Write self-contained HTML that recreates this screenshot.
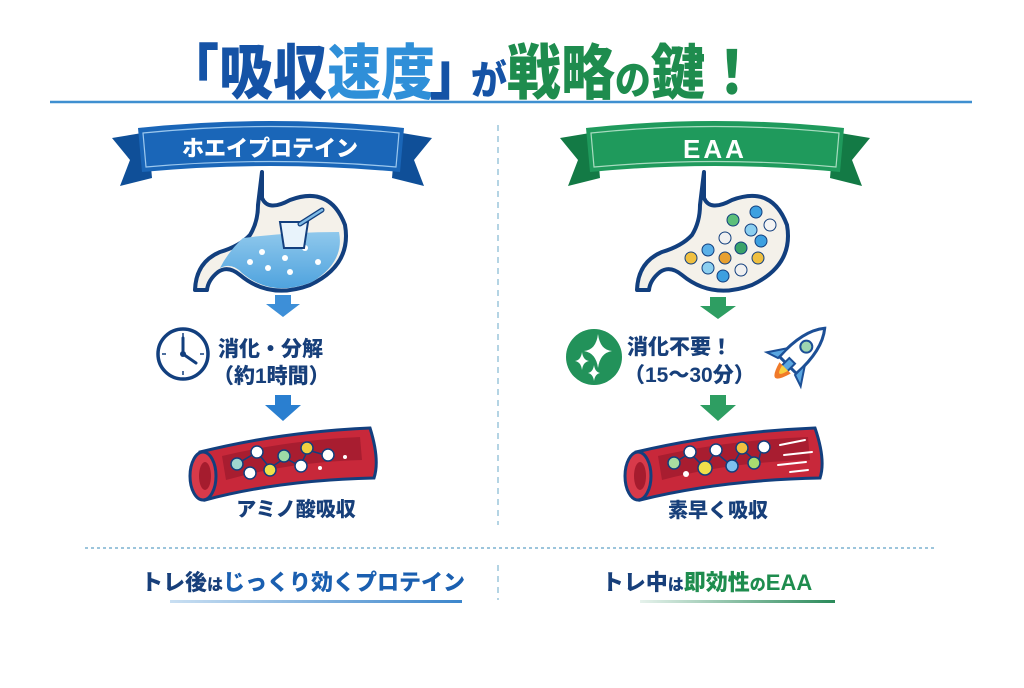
<!DOCTYPE html>
<html><head><meta charset="utf-8"><style>
body{margin:0;background:#fff;width:1024px;height:683px;overflow:hidden;font-family:"Liberation Sans","Noto Sans CJK JP",sans-serif}
svg text{font-family:"Liberation Sans","Noto Sans CJK JP",sans-serif;font-weight:900}
</style></head><body>
<svg width="1024" height="683" viewBox="0 0 1024 683" xmlns="http://www.w3.org/2000/svg">
<defs>
<linearGradient id="ulb" x1="0" x2="1"><stop offset="0" stop-color="#c9dff2"/><stop offset="1" stop-color="#3c86cc"/></linearGradient>
<linearGradient id="ulg" x1="0" x2="1"><stop offset="0" stop-color="#e6f2ec"/><stop offset="1" stop-color="#2a8a5a"/></linearGradient>
<linearGradient id="wat" x1="0" y1="0" x2="0" y2="1"><stop offset="0" stop-color="#8fc8ec"/><stop offset="1" stop-color="#4fa3de"/></linearGradient>
</defs>
<!-- title -->
<g transform="translate(165,94) scale(0.9,1)">
<text x="0" y="0" font-size="60" fill="#1553a6">「吸収<tspan fill="#2f8fd8">速度</tspan><tspan dx="-6">」</tspan><tspan dx="-14" font-size="40" fill="#1553a6">が</tspan><tspan fill="#1e8c4e">戦略</tspan><tspan font-size="40" fill="#1e8c4e">の</tspan><tspan fill="#1e8c4e">鍵！</tspan></text>
</g>
<line x1="50" y1="102" x2="972" y2="102" stroke="#3f8fd0" stroke-width="2.5"/>
<!-- dividers -->
<line x1="498" y1="125" x2="498" y2="525" stroke="#9cc5dc" stroke-width="1.5" stroke-dasharray="6,5"/>
<line x1="85" y1="548" x2="935" y2="548" stroke="#9cc5dc" stroke-width="2" stroke-dasharray="3,3"/>
<line x1="498" y1="565" x2="498" y2="600" stroke="#9cc5dc" stroke-width="1.5" stroke-dasharray="6,5"/>

<!-- left banner -->
<polygon points="112,138 148,132 152,178 120,186 130,160" fill="#0f4f98"/>
<polygon points="432,138 396,132 392,178 424,186 414,160" fill="#0f4f98"/>
<path d="M138,128 Q270,114 404,128 L400,172 Q270,160 142,172 Z" fill="#1a66b8"/>
<path d="M143,133 Q270,120 399,133 L396,167 Q270,156 146,167 Z" fill="none" stroke="#9cc8ee" stroke-width="1.2"/>
<text x="270" y="156" font-size="22" fill="#fff" text-anchor="middle">ホエイプロテイン</text>
<!-- right banner -->
<polygon points="560,138 596,132 600,178 568,186 578,160" fill="#137a45"/>
<polygon points="870,138 834,132 830,178 862,186 852,160" fill="#137a45"/>
<path d="M586,128 Q715,114 844,128 L840,172 Q715,160 590,172 Z" fill="#1f9a5c"/>
<path d="M591,133 Q715,120 839,133 L836,167 Q715,156 594,167 Z" fill="none" stroke="#a8dcc0" stroke-width="1.2"/>
<text x="715" y="158" font-size="26" fill="#fff" text-anchor="middle" letter-spacing="3">EAA</text>

<!-- left stomach -->
<path d="M262,172 L262,198 Q268,212 290,200 Q330,185 345,225 Q352,265 310,285 Q270,300 240,275 Q228,265 218,272 Q208,280 207,290 L195,290 Q196,262 220,252 Q240,246 250,235 Q258,222 258,205 Z" fill="#f4f1ea" stroke="#123f7e" stroke-width="4" stroke-linejoin="round"/>
<path d="M243,238 Q290,232 339,232 Q345,262 312,282 Q272,298 242,273 Q232,262 220,268 Q228,252 243,238 Z" fill="url(#wat)"/>
<g fill="#fff"><circle cx="262" cy="252" r="3"/><circle cx="285" cy="258" r="3"/><circle cx="305" cy="248" r="3"/><circle cx="268" cy="268" r="3"/><circle cx="290" cy="272" r="3"/><circle cx="318" cy="262" r="3"/><circle cx="250" cy="262" r="3"/></g>
<path d="M280,222 L308,222 L304,248 L284,248 Z" fill="#e8f3fb" stroke="#123f7e" stroke-width="2"/>
<line x1="300" y1="224" x2="322" y2="210" stroke="#123f7e" stroke-width="5" stroke-linecap="round"/>
<line x1="300" y1="224" x2="322" y2="210" stroke="#7fbbe6" stroke-width="2.5" stroke-linecap="round"/>
<!-- left arrows -->
<polygon points="275,295 291,295 291,304 300,304 283,317 266,304 275,304" fill="#3d8fd8"/>
<polygon points="275,395 291,395 291,405 301,405 283,421 265,405 275,405" fill="#2a7fd0"/>
<!-- clock -->
<circle cx="183" cy="354" r="25" fill="#fff" stroke="#123f7e" stroke-width="3.5"/>
<g stroke="#123f7e" stroke-width="1.5"><line x1="183" y1="333" x2="183" y2="337"/><line x1="183" y1="371" x2="183" y2="375"/><line x1="162" y1="354" x2="166" y2="354"/><line x1="200" y1="354" x2="204" y2="354"/></g>
<polyline points="183,338 183,354 196,363" fill="none" stroke="#123f7e" stroke-width="3" stroke-linecap="round"/>
<circle cx="183" cy="354" r="3" fill="#123f7e"/>
<text x="218" y="356" font-size="21" fill="#173f7a">消化・分解</text>
<text x="213" y="383" font-size="21" fill="#173f7a">（約1時間）</text>
<!-- left vessel -->
<path d="M200,452 Q280,432 370,428 Q380,460 374,478 Q280,480 205,500 Z" fill="#c8283a" stroke="#123f7e" stroke-width="3"/>
<path d="M222,456 Q290,440 360,437 L362,460 Q290,462 226,480 Z" fill="#a81d30"/>
<ellipse cx="203" cy="476" rx="13" ry="24" fill="#d83a4a" stroke="#123f7e" stroke-width="3"/>
<ellipse cx="205" cy="476" rx="6" ry="14" fill="#a51c2e"/>
<g stroke="#123f7e" stroke-width="1.5"><polyline points="237,464 257,452 270,468 285,458 300,466 308,450 328,456" fill="none"/>
<circle cx="237" cy="464" r="6" fill="#9fd6d0"/><circle cx="257" cy="452" r="6" fill="#fff"/><circle cx="250" cy="473" r="6" fill="#fff"/><circle cx="270" cy="470" r="6" fill="#f0e04a"/><circle cx="284" cy="456" r="6" fill="#9edaa6"/><circle cx="301" cy="466" r="6" fill="#fff"/><circle cx="307" cy="448" r="6" fill="#f0d040"/><circle cx="328" cy="455" r="6" fill="#fff"/></g>
<circle cx="345" cy="457" r="2" fill="#fff"/><circle cx="320" cy="468" r="2" fill="#fff"/>
<text x="296" y="516" font-size="20" fill="#173f7a" text-anchor="middle">アミノ酸吸収</text>

<!-- right stomach -->
<path d="M704,172 L704,198 Q710,212 732,200 Q772,185 787,225 Q794,265 752,285 Q712,300 682,275 Q670,265 660,272 Q650,280 649,290 L637,290 Q638,262 662,252 Q682,246 692,235 Q700,222 700,205 Z" fill="#f4f1ea" stroke="#123f7e" stroke-width="4" stroke-linejoin="round"/>
<g stroke="#123f7e" stroke-width="1">
<circle cx="756" cy="212" r="6" fill="#3da0e0"/><circle cx="733" cy="220" r="6" fill="#5cbf7a"/><circle cx="770" cy="225" r="6" fill="#f4f4f4"/><circle cx="751" cy="230" r="6" fill="#8ccff0"/><circle cx="725" cy="238" r="6" fill="#f0f0f0"/><circle cx="761" cy="241" r="6" fill="#3da0e0"/><circle cx="741" cy="248" r="6" fill="#3aa36a"/><circle cx="708" cy="250" r="6" fill="#5ab0e8"/><circle cx="691" cy="258" r="6" fill="#f0c040"/><circle cx="725" cy="258" r="6" fill="#e8a030"/><circle cx="758" cy="258" r="6" fill="#f0c040"/><circle cx="708" cy="268" r="6" fill="#8ccff0"/><circle cx="741" cy="270" r="6" fill="#f0f0f0"/><circle cx="723" cy="276" r="6" fill="#3da0e0"/></g>
<!-- right arrows -->
<polygon points="710,297 726,297 726,306 736,306 718,319 700,306 710,306" fill="#2e9e62"/>
<polygon points="710,395 726,395 726,405 736,405 718,421 700,405 710,405" fill="#2e9e62"/>
<!-- sparkle icon -->
<circle cx="594" cy="357" r="28" fill="#22925a"/>
<path d="M598,334 Q600,350 612,351 Q600,353 598,368 Q596,353 584,351 Q596,350 598,334Z" fill="#fff"/>
<path d="M582,352 Q583,360 589,361 Q583,362 582,370 Q581,362 575,361 Q581,360 582,352Z" fill="#fff"/>
<path d="M594,365 Q595,372 600,373 Q595,374 594,381 Q593,374 588,373 Q593,372 594,365Z" fill="#fff"/>
<text x="627" y="354" font-size="21" fill="#173f7a">消化不要！</text>
<text x="624" y="382" font-size="21" fill="#173f7a">（15～30分）</text>
<!-- rocket -->
<g transform="translate(795,358) rotate(45)">
<path d="M0,-42 Q14,-25 12,10 L-12,10 Q-14,-25 0,-42Z" fill="#fff" stroke="#1c4f96" stroke-width="3"/>
<circle cx="0" cy="-16" r="6" fill="#9fd6b0" stroke="#1c4f96" stroke-width="2"/>
<path d="M-12,-2 L-24,16 L-12,12Z" fill="#5aa6e0" stroke="#1c4f96" stroke-width="2"/>
<path d="M12,-2 L24,16 L12,12Z" fill="#5aa6e0" stroke="#1c4f96" stroke-width="2"/>
<rect x="-4" y="4" width="8" height="14" fill="#5aa6e0" stroke="#1c4f96" stroke-width="2"/>
<path d="M-8,14 Q0,42 8,14Z" fill="#f07a2a"/><path d="M-4,14 Q0,30 4,14Z" fill="#f8d040"/>
</g>
<!-- right vessel -->
<path d="M636,452 Q720,432 815,428 Q826,460 820,478 Q720,480 640,500 Z" fill="#c8283a" stroke="#123f7e" stroke-width="3"/>
<path d="M658,456 Q730,440 808,437 L810,460 Q730,462 662,480 Z" fill="#a81d30"/>
<ellipse cx="638" cy="476" rx="13" ry="24" fill="#d83a4a" stroke="#123f7e" stroke-width="3"/>
<ellipse cx="640" cy="476" rx="6" ry="14" fill="#a51c2e"/>
<g stroke="#fff" stroke-width="2" stroke-linecap="round"><line x1="780" y1="445" x2="805" y2="440"/><line x1="784" y1="455" x2="812" y2="452"/><line x1="778" y1="465" x2="806" y2="462"/><line x1="790" y1="472" x2="808" y2="470"/></g>
<g stroke="#123f7e" stroke-width="1.5"><polyline points="674,463 690,453 705,468 715,452 732,466 742,449 758,463 762,447" fill="none"/>
<circle cx="674" cy="463" r="6" fill="#a8dca0"/><circle cx="690" cy="452" r="6" fill="#fff"/><circle cx="705" cy="468" r="7" fill="#f0e04a"/><circle cx="716" cy="450" r="6" fill="#fff"/><circle cx="732" cy="466" r="6" fill="#7fc0ee"/><circle cx="742" cy="448" r="6" fill="#f0c040"/><circle cx="754" cy="463" r="6" fill="#a8dc70"/><circle cx="764" cy="447" r="6" fill="#fff"/></g>
<circle cx="686" cy="474" r="3" fill="#fff"/>
<text x="718" y="517" font-size="20" fill="#173f7a" text-anchor="middle">素早く吸収</text>

<!-- bottom -->
<text x="303" y="590" font-size="22" fill="#173f7a" text-anchor="middle">トレ後<tspan font-size="16">は</tspan><tspan fill="#1a5fb0">じっくり効くプロテイン</tspan></text>
<rect x="170" y="600" width="292" height="3" fill="url(#ulb)"/>
<text x="707" y="590" font-size="22" fill="#173f7a" text-anchor="middle">トレ中<tspan font-size="16">は</tspan><tspan fill="#1e8c4e">即効性<tspan font-size="16">の</tspan>EAA</tspan></text>
<rect x="640" y="600" width="195" height="3" fill="url(#ulg)"/>
</svg>
</body></html>
